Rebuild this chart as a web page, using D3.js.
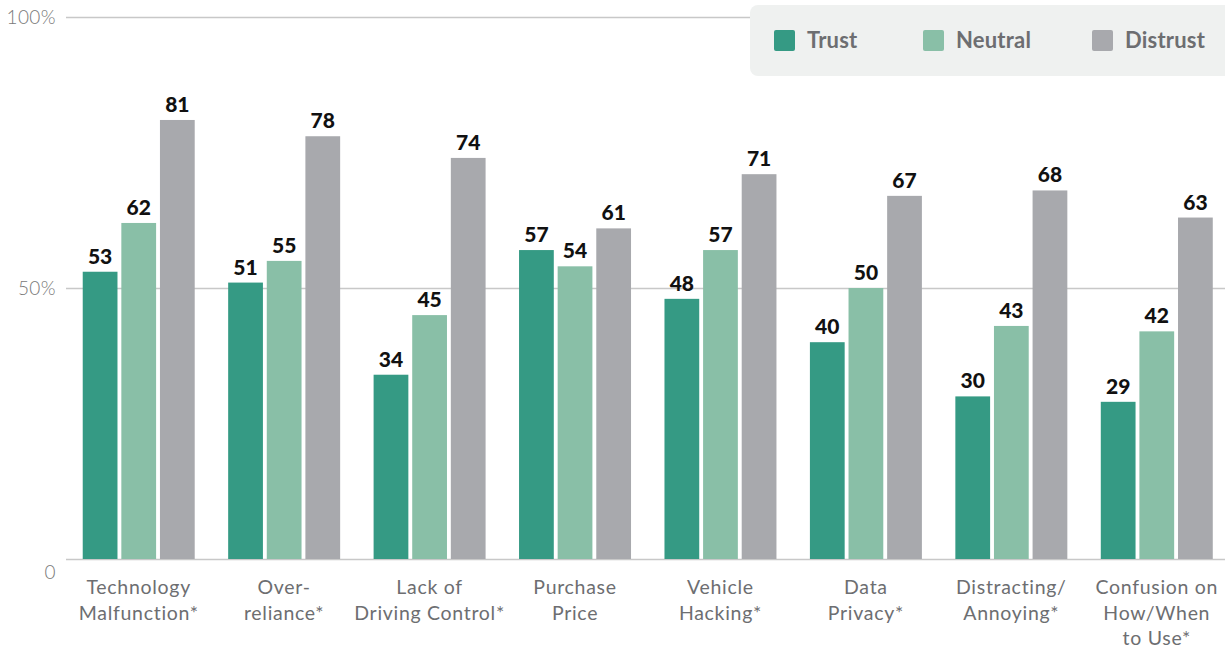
<!DOCTYPE html>
<html>
<head>
<meta charset="utf-8">
<script src="https://cdn.jsdelivr.net/npm/d3@7"></script>
<style>
  body { margin: 0; background: #fff; }
  svg { display: block; font-family: "Lato", "Open Sans", sans-serif; }
</style>
</head>
<body>
<div id="chart"></div>
<script>
// data
var categories = [
  ["Technology", "Malfunction*"],
  ["Over-", "reliance*"],
  ["Lack of", "Driving Control*"],
  ["Purchase", "Price"],
  ["Vehicle", "Hacking*"],
  ["Data", "Privacy*"],
  ["Distracting/", "Annoying*"],
  ["Confusion on", "How/When", "to Use*"]
];
var seriesNames = ["Trust", "Neutral", "Distrust"];
var trust    = [53, 51, 34, 57, 48, 40, 30, 29];
var neutral  = [62, 55, 45, 54, 57, 50, 43, 42];
var distrust = [81, 78, 74, 61, 71, 67, 68, 63];
var yTicks = [0, 50, 100];
var yTickLabels = ["0", "50%", "100%"];

var colors = ["#359a84", "#89bfa7", "#a8a9ad"];
var series = [trust, neutral, distrust];

var width = 1225, height = 649;

var svg = d3.select("#chart").append("svg")
  .attr("width", width)
  .attr("height", height);

// scales
var x0 = d3.scaleBand()
  .domain(d3.range(categories.length))
  .range([66, 1229.5])
  .paddingInner(0.23)
  .paddingOuter(0.115);

var x1 = d3.scaleBand()
  .domain(d3.range(seriesNames.length))
  .range([0, x0.bandwidth()])
  .paddingInner(0.1);

var y = d3.scaleLinear().domain([0, 100]).range([559, 17]);

// grid lines
svg.append("g")
  .selectAll("line")
  .data(yTicks)
  .enter().append("line")
  .attr("x1", 66)
  .attr("x2", width)
  .attr("y1", function (d) { return y(d) + 0.5; })
  .attr("y2", function (d) { return y(d) + 0.5; })
  .attr("stroke", "#c8c8c8")
  .attr("stroke-width", 1.3);

// y tick labels
svg.append("g")
  .selectAll("text")
  .data(yTicks)
  .enter().append("text")
  .attr("x", 56)
  .attr("y", function (d) { return d === 0 ? y(d) + 13 : y(d); })
  .attr("dy", "0.35em")
  .attr("text-anchor", "end")
  .attr("fill", "#7a7a7a")
  .attr("font-size", 19)
  .attr("font-weight", 300)
  .attr("letter-spacing", 0.4)
  .text(function (d, i) { return yTickLabels[i]; });

// bars
var groups = svg.append("g")
  .selectAll("g")
  .data(categories)
  .enter().append("g")
  .attr("transform", function (d, i) { return "translate(" + x0(i) + ",0)"; });

groups.selectAll("rect")
  .data(function (d, i) { return series.map(function (s, k) { return { k: k, v: s[i] }; }); })
  .enter().append("rect")
  .attr("x", function (d) { return x1(d.k); })
  .attr("y", function (d) { return y(d.v); })
  .attr("width", x1.bandwidth())
  .attr("height", function (d) { return y(0) - y(d.v); })
  .attr("fill", function (d) { return colors[d.k]; });

groups.selectAll("text.val")
  .data(function (d, i) { return series.map(function (s, k) { return { k: k, v: s[i] }; }); })
  .enter().append("text")
  .attr("class", "val")
  .attr("x", function (d) { return x1(d.k) + x1.bandwidth() / 2; })
  .attr("y", function (d) { return y(d.v) - 8; })
  .attr("text-anchor", "middle")
  .attr("font-size", 21)
  .attr("font-weight", 900)
  .attr("fill", "#111")
  .text(function (d) { return d.v; });

// category labels
groups.append("text")
  .attr("x", x0.bandwidth() / 2)
  .attr("y", 594)
  .attr("text-anchor", "middle")
  .attr("font-size", 19.5)
  .attr("letter-spacing", 0.7)
  .attr("fill", "#6d6e71")
  .selectAll("tspan")
  .data(function (d) { return d; })
  .enter().append("tspan")
  .attr("x", x0.bandwidth() / 2)
  .attr("dy", function (d, i) { return i === 0 ? 0 : 25.5; })
  .text(function (d) { return d; });

// legend
var legend = svg.append("g");
legend.append("rect")
  .attr("x", 750).attr("y", 5)
  .attr("width", 490).attr("height", 71)
  .attr("rx", 8)
  .attr("fill", "#eff1f0");

var legendX = [774, 923, 1092];
var items = legend.selectAll("g")
  .data(seriesNames)
  .enter().append("g")
  .attr("transform", function (d, i) { return "translate(" + legendX[i] + ",30)"; });

items.append("rect")
  .attr("width", 21).attr("height", 21)
  .attr("rx", 2)
  .attr("fill", function (d, i) { return colors[i]; });

items.append("text")
  .attr("x", 33)
  .attr("y", 10.5)
  .attr("dy", "0.36em")
  .attr("font-size", 22)
  .attr("font-weight", 700)
  .attr("letter-spacing", 0.2)
  .attr("fill", "#6d6e71")
  .text(function (d) { return d; });
</script>
</body>
</html>
